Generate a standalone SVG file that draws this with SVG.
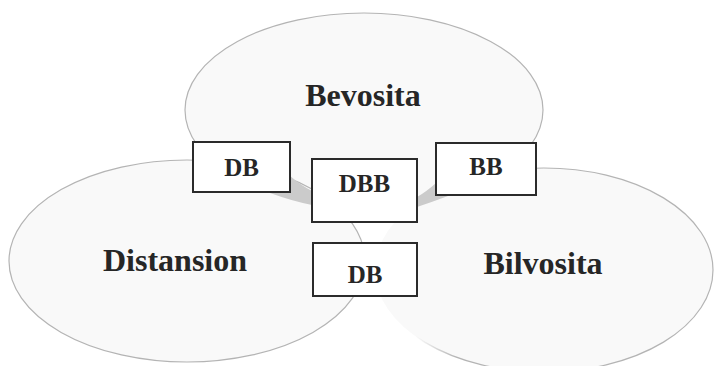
<svg xmlns="http://www.w3.org/2000/svg" width="716" height="366" viewBox="0 0 716 366">
<defs>
<linearGradient id="fadeLeft" x1="0" y1="0" x2="1" y2="0">
<stop offset="0" stop-color="#b4b4b4" stop-opacity="0"/>
<stop offset="0.12" stop-color="#b4b4b4" stop-opacity="0"/>
<stop offset="0.24" stop-color="#b4b4b4" stop-opacity="1"/>
<stop offset="1" stop-color="#b4b4b4" stop-opacity="1"/>
</linearGradient>
</defs>
<style>
.set{fill:#f9f9f9;stroke:#b4b4b4;stroke-width:1.2}
.box{fill:#ffffff;stroke:#2b2b2b;stroke-width:2}
.lbl{font-family:"Liberation Serif","Times New Roman",serif;font-weight:bold;fill:#262626;text-anchor:middle}
.big{font-size:32px}
.small{font-size:25px}
.flow{fill:#cbcbcb;stroke:none}
</style>
<rect width="716" height="366" fill="#ffffff"/>
<g id="set-bevosita">
<ellipse class="set" cx="364" cy="110" rx="179" ry="97"/>
</g>
<g id="set-bilvosita">
<ellipse class="set" cx="544" cy="270" rx="169" ry="102" style="stroke:url(#fadeLeft)"/>
</g>
<g id="set-distansion">
<ellipse class="set" cx="187" cy="261" rx="178" ry="101"/>
</g>
<g id="set-labels">
<text class="lbl big" x="363" y="106">Bevosita</text>
<text class="lbl big" x="175" y="271">Distansion</text>
<text class="lbl big" x="543" y="274">Bilvosita</text>
</g>
<g id="connectors">
<path class="flow" d="M290,176 Q302,186 312,191 L312,205 Q292,201 270,193 L290,193 Z"/>
<path class="flow" d="M436,183 Q426,192 417,197 L417,207 Q432,202 448,196 L436,196 Z"/>
</g>
<g id="node-db-top">
<rect class="box" x="193" y="142" width="97" height="50"/>
<text class="lbl small" x="241.5" y="176">DB</text>
</g>
<g id="node-dbb">
<rect class="box" x="312" y="159" width="105" height="63"/>
<text class="lbl small" x="364.5" y="192">DBB</text>
</g>
<g id="node-bb">
<rect class="box" x="436" y="143" width="100" height="52"/>
<text class="lbl small" x="486" y="175">BB</text>
</g>
<g id="node-db-bottom">
<rect class="box" x="313" y="243" width="104" height="53"/>
<text class="lbl small" x="365" y="283">DB</text>
</g>
</svg>
